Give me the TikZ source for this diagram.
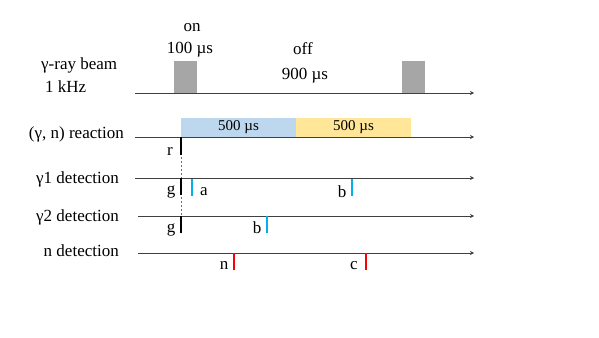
\documentclass[tikz,border=0pt]{standalone}
\usepackage{fontspec}
\setmainfont{Liberation Serif}
\usetikzlibrary{arrows.meta, positioning}
\definecolor{pulsegray}{RGB}{166, 166, 166}
\definecolor{winblue}{RGB}{189, 215, 238}
\definecolor{winyellow}{RGB}{255, 230, 153}
\definecolor{hitblue}{RGB}{0, 176, 240}
\definecolor{hitred}{RGB}{255, 0, 0}
\definecolor{dashblue}{RGB}{68, 114, 196}
\definecolor{axisgray}{RGB}{64, 64, 64}

\begin{document}
\begin{tikzpicture}[
          x=1pt, y=-1pt,
          lbl/.style={font=\fontsize{17}{20}\selectfont,
                      inner sep=0pt},
          pulse/.style={fill=pulsegray, minimum width=23,
                        minimum height=32, inner sep=0pt},
          win/.style={minimum width=115, minimum height=19,
                      inner sep=0pt,
                      font=\fontsize{15}{18}\selectfont},
          axis/.style={axisgray, line width=0.9pt,
                       -{Stealth[length=4pt, width=4pt]}},
          hit/.style={line width=1.4pt},
      ]
      \useasboundingbox[fill=white] (0, 0) rectangle (599, 337);
      % time axes
      \coordinate (beamL) at (135, 93);
      \coordinate (beamR) at (474, 93);
      \coordinate (reacL) at (135, 137);
      \coordinate (reacR) at (474, 137);
      \coordinate (gaaL) at (135, 178);
      \coordinate (gaaR) at (474, 178);
      \coordinate (gabL) at (138, 216);
      \coordinate (gabR) at (474, 216);
      \coordinate (neuL) at (138, 253);
      \coordinate (neuR) at (474, 253);
      % beam pulses and gate windows
      \node[pulse] (pulseA) at (185.5, 77) {};
      \node[pulse] (pulseB) at (413.5, 77) {};
      \node[win, fill=winblue] (winA) at (238.5, 127.5)
          {500 µs};
      \node[win, fill=winyellow] (winB) at (353.5, 127.5)
          {500 µs};
      \draw[axis] (beamL) -- (beamR);
      \draw[axis] (reacL) -- (reacR);
      \draw[axis] (gaaL) -- (gaaR);
      \draw[axis] (gabL) -- (gabR);
      \draw[axis] (neuL) -- (neuR);
      % row labels
      \node[lbl, anchor=base west] (lbeam) at (41, 70)
          {γ-ray beam};
      \node[lbl, anchor=base west] (lfreq) at (45, 92)
          {1 kHz};
      \node[lbl] (lon) at (192, 28) {on};
      \node[lbl, anchor=base] (lonT) at (190, 54) {100 µs};
      \node[lbl] (loff) at (303, 49) {off};
      \node[lbl, anchor=base] (loffT) at (305, 79) {900 µs};
      \node[lbl, anchor=base east] (lreac) at (124, 138)
          {(γ, n) reaction};
      \node[lbl, anchor=base east] (lgaa) at (119, 183)
          {γ1 detection};
      \node[lbl, anchor=base east] (lgab) at (119, 221)
          {γ2 detection};
      \node[lbl, anchor=base east] (lneu) at (119, 256)
          {n detection};
      % event ticks
      \coordinate (rTop) at (181, 137);
      \coordinate (rBot) at (181, 155);
      \coordinate (gaTop) at (181, 178);
      \coordinate (gaBot) at (181, 195);
      \coordinate (gbTop) at (181, 216);
      \coordinate (gbBot) at (181, 233);
      \draw[dashed, dash pattern=on 2pt off 2pt, dashblue,
          line width=0.8pt] (rTop) -- (gbBot);
      \draw[hit, black] (rTop) -- (rBot);
      \draw[hit, black] (gaTop) -- (gaBot);
      \draw[hit, black] (gbTop) -- (gbBot);
      \coordinate (aTop) at (192, 179);
      \coordinate (aBot) at (192, 196);
      \coordinate (baTop) at (352, 179);
      \coordinate (baBot) at (352, 196);
      \coordinate (bbTop) at (267, 216);
      \coordinate (bbBot) at (267, 233);
      \coordinate (nTop) at (234, 253);
      \coordinate (nBot) at (234, 270);
      \coordinate (cTop) at (366, 253);
      \coordinate (cBot) at (366, 270);
      \draw[hit, hitblue] (aTop) -- (aBot);
      \draw[hit, hitblue] (baTop) -- (baBot);
      \draw[hit, hitblue] (bbTop) -- (bbBot);
      \draw[hit, hitred] (nTop) -- (nBot);
      \draw[hit, hitred] (cTop) -- (cBot);
      \node[lbl, anchor=base] (lr) at (170, 155) {r};
      \node[lbl, anchor=base] (lga) at (171, 194) {g};
      \node[lbl, anchor=base] (la) at (204, 195) {a};
      \node[lbl, anchor=base] (lba) at (342, 197) {b};
      \node[lbl, anchor=base] (lgb) at (171, 232) {g};
      \node[lbl, anchor=base] (lbb) at (257, 233) {b};
      \node[lbl, anchor=base] (ln) at (224, 269) {n};
      \node[lbl, anchor=base] (lc) at (354, 269) {c};
      \end{tikzpicture}
\end{document}
